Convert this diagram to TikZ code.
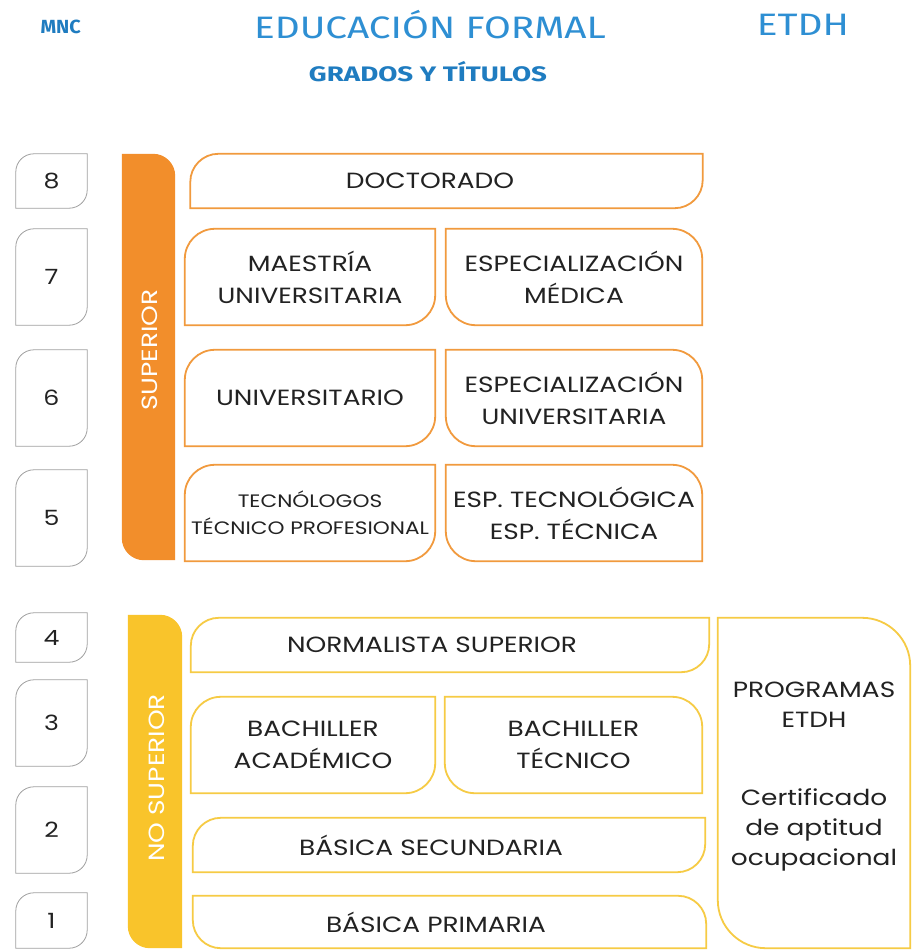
\documentclass[tikz,border=0pt]{standalone}
\usepackage{fontspec}
\setmainfont{Poppins}[FakeStretch=1.2]
\newfontfamily\hdrfont{Fira Sans}
\usetikzlibrary{calc}
\definecolor{hblue}{HTML}{1F7CC0}
\definecolor{hblue2}{HTML}{2E8FD3}
\definecolor{obar}{HTML}{F28E2B}
\definecolor{oline}{HTML}{F19A3E}
\definecolor{yfill}{HTML}{F9C42B}
\definecolor{yline}{HTML}{F6CB45}
\definecolor{gline}{HTML}{A0A0A0}
\definecolor{txtc}{HTML}{222222}
\tikzset{
  cell/.style={inner sep=0pt, text=txtc, font=\fontsize{22}{32}\selectfont, align=center},
  lbl/.style={inner sep=0pt, text=txtc, font=\fontsize{22}{32}\selectfont, align=center},
  small/.style={font=\fontsize{18}{27}\selectfont},
  numc/.style={inner sep=0pt, text=txtc, font=\fontsize{21}{26}\selectfont},
  barlbl/.style={text=white, font=\fontsize{22}{26}\selectfont, rotate=90},
}
% TL and BR rounded
\newcommand\leafA[4]{%
 \draw[#3, line width=#4] (#1.south west) -- ($(#1.north west)+(0,#2)$) .. controls ($(#1.north west)+(0,0.45*#2)$) and ($(#1.north west)+(0.45*#2,0)$) .. ($(#1.north west)+(#2,0)$) -- (#1.north east) -- ($(#1.south east)+(0,-#2)$) .. controls ($(#1.south east)+(0,-0.45*#2)$) and ($(#1.south east)+(-0.45*#2,0)$) .. ($(#1.south east)+(-#2,0)$) -- cycle;}
% TR and BL rounded
\newcommand\leafB[4]{%
 \draw[#3, line width=#4] (#1.north west) -- ($(#1.north east)+(-#2,0)$) .. controls ($(#1.north east)+(-0.45*#2,0)$) and ($(#1.north east)+(0,0.45*#2)$) .. ($(#1.north east)+(0,#2)$) -- (#1.south east) -- ($(#1.south west)+(#2,0)$) .. controls ($(#1.south west)+(0.45*#2,0)$) and ($(#1.south west)+(0,-0.45*#2)$) .. ($(#1.south west)+(0,-#2)$) -- cycle;}
\newcommand\leafBfill[3]{%
 \fill[#3] (#1.north west) -- ($(#1.north east)+(-#2,0)$) .. controls ($(#1.north east)+(-0.45*#2,0)$) and ($(#1.north east)+(0,0.45*#2)$) .. ($(#1.north east)+(0,#2)$) -- (#1.south east) -- ($(#1.south west)+(#2,0)$) .. controls ($(#1.south west)+(0.45*#2,0)$) and ($(#1.south west)+(0,-0.45*#2)$) .. ($(#1.south west)+(0,-#2)$) -- cycle;}
\begin{document}
\begin{tikzpicture}[x=1pt,y=-1pt]
\useasboundingbox[fill=white] (0,0) rectangle (918,951);
% headers
\node[text=hblue, font=\hdrfont\bfseries\fontsize{19}{20}\selectfont\addfontfeature{FakeStretch=1.05}, anchor=west] (mnc) at (37,27) {MNC};
\node[text=hblue2, font=\hdrfont\fontsize{31}{32}\selectfont\addfontfeature{FakeStretch=1.25}] (edu) at (430,25) {EDUCACIÓN FORMAL};
\node[text=hblue2, font=\hdrfont\fontsize{31}{32}\selectfont\addfontfeature{FakeStretch=1.25}] (etdh) at (803,25) {ETDH};
\node[text=hblue, font=\hdrfont\bfseries\fontsize{21}{22}\selectfont\addfontfeature{FakeStretch=1.32}] (gyt) at (428,72) {GRADOS Y TÍTULOS};
% level numbers
\foreach \n/\ya/\yb in {8/154/208, 7/229/325, 6/350/446, 5/470/566, 4/613/662, 3/680/766, 2/787/873, 1/893/948}{
  \node[numc, minimum width=71pt, minimum height={\yb-\ya}] (n\n) at (51.5,{(\ya+\yb)/2}) {\n};
  \leafA{n\n}{18}{gline}{0.8pt}
}
% bars
\node[inner sep=0pt, minimum width=53pt, minimum height=406pt] (supbar) at (148.5,357) {};
\leafBfill{supbar}{22}{obar}
\node[barlbl] (suplbl) at (150,350) {SUPERIOR};
\node[inner sep=0pt, minimum width=54pt, minimum height=333pt] (nsbar) at (155,781.5) {};
\leafBfill{nsbar}{22}{yfill}
\node[barlbl] (nslbl) at (157,778) {NO SUPERIOR};
% superior boxes
\node[cell, minimum width=512pt, minimum height=54pt] (doc) at (446.5,181) {};
\leafA{doc}{28}{oline}{1.8pt}
\node[lbl] (doct) at (430,181) {DOCTORADO};
\node[cell, minimum width=250pt, minimum height=96pt] (mae) at (310,277) {MAESTRÍA\\UNIVERSITARIA};
\leafA{mae}{30}{oline}{1.8pt}
\node[cell, minimum width=256pt, minimum height=96pt] (espm) at (574,277) {ESPECIALIZACIÓN\\MÉDICA};
\leafB{espm}{30}{oline}{1.8pt}
\node[cell, minimum width=250pt, minimum height=96pt] (uni) at (310,398) {UNIVERSITARIO};
\leafA{uni}{30}{oline}{1.8pt}
\node[cell, minimum width=256pt, minimum height=96pt] (espu) at (574,398) {ESPECIALIZACIÓN\\UNIVERSITARIA};
\leafB{espu}{30}{oline}{1.8pt}
\node[cell, small, minimum width=250pt, minimum height=96pt] (tec) at (310,513) {TECNÓLOGOS\\TÉCNICO PROFESIONAL};
\leafA{tec}{30}{oline}{1.8pt}
\node[cell, minimum width=256pt, minimum height=96pt] (espt) at (574,513) {ESP. TECNOLÓGICA\\ESP. TÉCNICA};
\leafB{espt}{30}{oline}{1.8pt}
% no superior boxes
\node[cell, minimum width=518pt, minimum height=54pt] (norm) at (450,645) {};
\leafA{norm}{28}{yline}{1.8pt}
\node[lbl] (normt) at (432,645) {NORMALISTA SUPERIOR};
\node[cell, minimum width=244pt, minimum height=96pt] (baca) at (313,745) {BACHILLER\\ACADÉMICO};
\leafA{baca}{30}{yline}{1.8pt}
\node[cell, minimum width=257pt, minimum height=96pt] (btec) at (573.5,745) {BACHILLER\\TÉCNICO};
\leafB{btec}{30}{yline}{1.8pt}
\node[cell, minimum width=512pt, minimum height=54pt] (bsec) at (449,845) {};
\leafA{bsec}{28}{yline}{1.8pt}
\node[lbl] (bsect) at (431,845) {BÁSICA SECUNDARIA};
\node[cell, minimum width=513pt, minimum height=52pt] (bpri) at (449.5,922) {};
\leafB{bpri}{28}{yline}{1.8pt}
\node[lbl] (bprit) at (436,922) {BÁSICA PRIMARIA};
\node[cell, minimum width=192pt, minimum height=330pt] (etdhbox) at (814,783) {};
\leafB{etdhbox}{48}{yline}{1.8pt}
\node[cell, font=\fontsize{22}{30}\selectfont] (prog) at (814,705) {PROGRAMAS\\ETDH};
\node[cell, font=\fontsize{22}{30}\selectfont] (cert) at (814,830) {Certificado\\de aptitud\\ocupacional};
\end{tikzpicture}
\end{document}
